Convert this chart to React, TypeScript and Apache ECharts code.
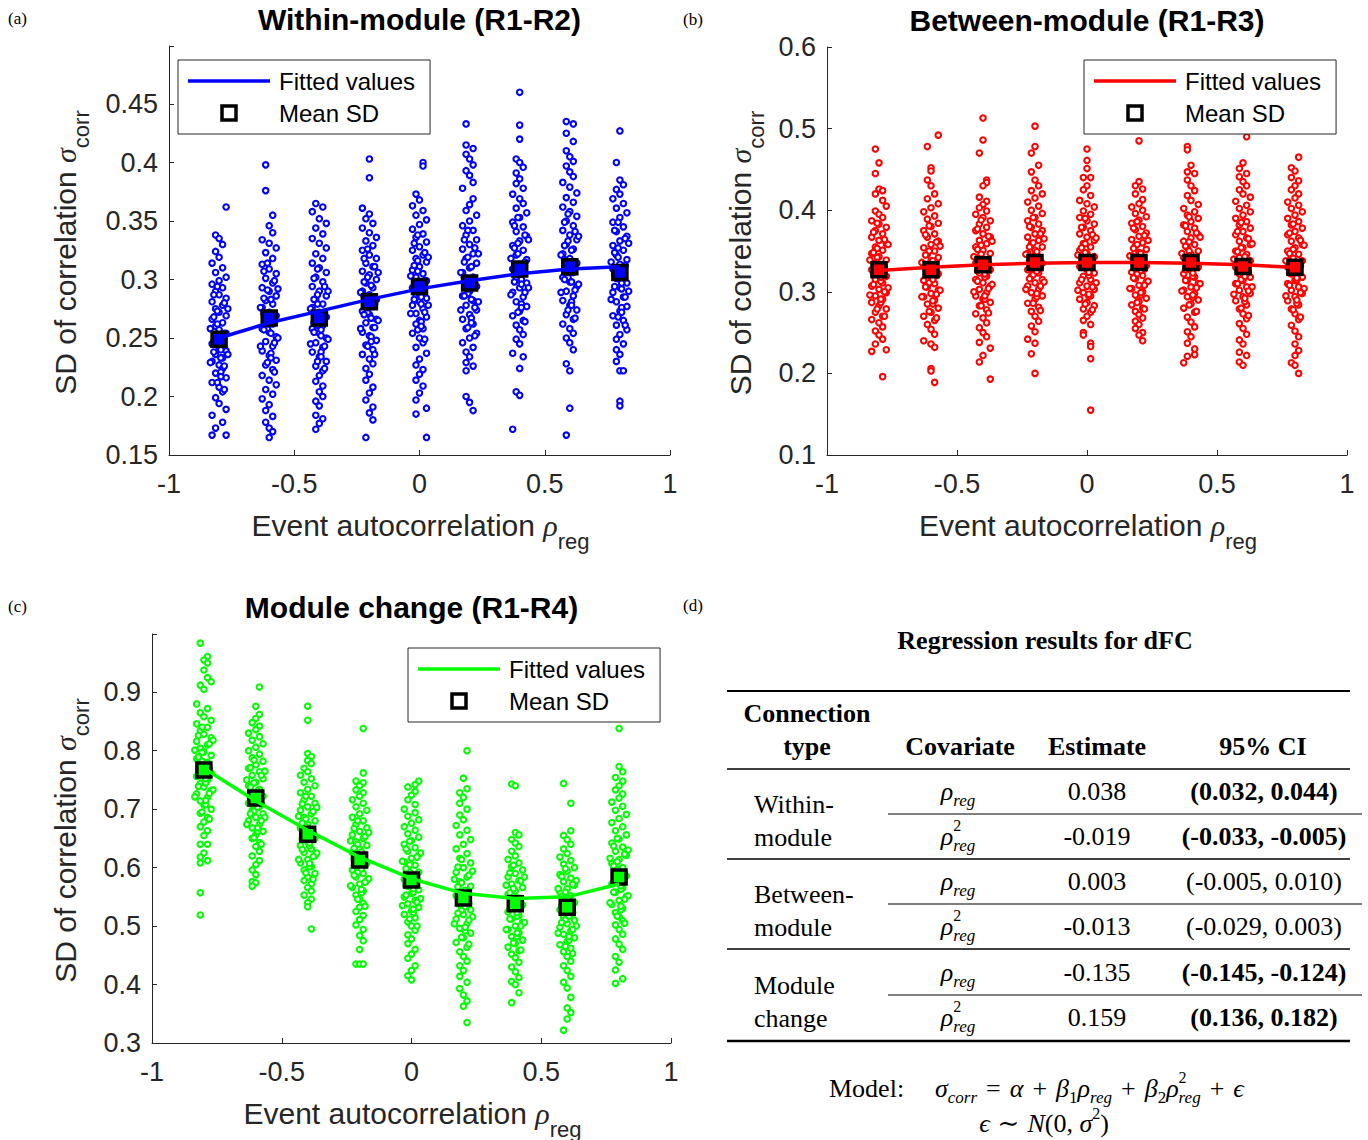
import React, { useEffect, useRef } from 'react';
import * as echarts from 'echarts';

// ---------------- data ----------------
const rhoLevels = [-0.8, -0.6, -0.4, -0.2, 0, 0.2, 0.4, 0.6, 0.8];

const withinMean = [0.249, 0.267, 0.267, 0.281, 0.294, 0.297, 0.309, 0.311, 0.306];
const withinFit = [0.25, 0.263, 0.273, 0.283, 0.292, 0.299, 0.305, 0.309, 0.311];
const betweenMean = [0.327, 0.327, 0.333, 0.336, 0.336, 0.336, 0.336, 0.331, 0.33];
const betweenFit = [0.326, 0.33, 0.333, 0.335, 0.336, 0.336, 0.335, 0.333, 0.33];
const changeMean = [0.767, 0.719, 0.657, 0.613, 0.579, 0.548, 0.538, 0.532, 0.584];
const changeFit = [0.77, 0.714, 0.664, 0.618, 0.581, 0.556, 0.547, 0.55, 0.572];

// each point: [jitter step, sigma_corr]
const withinDots: number[][][] = [
  [[2,.362],[-1,.338],[0,.335],[1,.330],[-1,.324],[0,.319],[-2,.314],[1,.310],[-1,.306],[2,.302],[0,.299],[-2,.296],[1,.293],[-1,.290],[0,.287],[2,.284],[-2,.281],[1,.278],[-1,.275],[0,.272],[2,.269],[-2,.266],[1,.263],[-1,.260],[0,.257],[2,.254],[-1,.251],[1,.248],[-2,.245],[0,.242],[2,.239],[-1,.236],[1,.233],[-2,.230],[0,.227],[1,.224],[-1,.220],[2,.216],[-2,.212],[0,.208],[1,.204],[-1,.199],[0,.194],[2,.189],[-2,.184],[1,.178],[-1,.173],[-2,.167],[2,.167]],
  [[-1,.398],[-1,.376],[1,.355],[0,.346],[1,.340],[-2,.334],[0,.331],[2,.327],[-1,.323],[1,.318],[-2,.313],[0,.309],[2,.305],[-1,.301],[1,.297],[-2,.293],[0,.290],[2,.286],[-1,.282],[1,.279],[-2,.276],[0,.272],[2,.269],[-1,.266],[1,.262],[-2,.258],[0,.255],[2,.251],[-1,.247],[1,.243],[-2,.239],[0,.235],[2,.231],[-1,.227],[1,.223],[-2,.218],[0,.214],[2,.210],[-1,.206],[1,.202],[-2,.198],[0,.193],[-1,.188],[1,.183],[-1,.178],[0,.173],[1,.170],[0,.165]],
  [[-1,.365],[1,.362],[-2,.358],[0,.352],[2,.348],[-1,.344],[1,.339],[-2,.335],[0,.331],[2,.327],[-1,.322],[1,.318],[-2,.314],[0,.310],[2,.306],[-1,.302],[1,.298],[-2,.294],[0,.290],[2,.286],[-1,.283],[1,.279],[-2,.276],[0,.272],[2,.268],[-1,.265],[1,.261],[-2,.258],[0,.254],[2,.250],[-1,.246],[1,.242],[-2,.238],[0,.234],[2,.230],[-1,.226],[1,.222],[0,.218],[-1,.213],[1,.209],[0,.204],[1,.200],[-1,.196],[0,.192],[-1,.184],[1,.181],[0,.177],[-1,.172]],
  [[0,.403],[0,.387],[-2,.361],[0,.356],[-1,.352],[1,.348],[-2,.344],[0,.340],[2,.336],[-1,.333],[1,.329],[-2,.325],[0,.321],[2,.318],[-1,.314],[1,.311],[-2,.307],[0,.304],[2,.300],[-1,.297],[1,.293],[-2,.290],[0,.287],[2,.283],[-1,.280],[1,.277],[-2,.273],[0,.270],[2,.266],[-1,.263],[1,.259],[-2,.255],[0,.252],[2,.248],[-1,.244],[1,.240],[-2,.236],[0,.232],[1,.228],[-1,.224],[0,.219],[-1,.214],[1,.208],[0,.203],[-1,.197],[1,.191],[0,.186],[1,.180],[-1,.165]],
  [[1,.400],[1,.397],[-1,.373],[0,.368],[-2,.363],[1,.359],[-1,.355],[2,.351],[0,.347],[-2,.343],[1,.339],[-1,.336],[2,.332],[0,.328],[-2,.325],[1,.321],[-1,.318],[2,.315],[0,.311],[-2,.308],[1,.305],[-1,.302],[2,.299],[0,.296],[-2,.293],[1,.290],[-1,.287],[2,.284],[0,.281],[-2,.278],[1,.275],[-1,.271],[2,.268],[0,.265],[-1,.262],[1,.258],[-2,.254],[0,.250],[1,.246],[-1,.242],[2,.237],[0,.232],[-1,.227],[1,.223],[0,.219],[-1,.214],[1,.209],[0,.203],[-1,.197],[2,.190],[-1,.185],[2,.165]],
  [[-1,.433],[-1,.415],[1,.412],[-1,.407],[0,.403],[1,.398],[-1,.393],[0,.389],[1,.383],[-2,.378],[1,.369],[0,.364],[-1,.359],[2,.355],[0,.350],[-2,.346],[1,.342],[-1,.338],[2,.334],[0,.330],[-2,.326],[1,.322],[-1,.318],[2,.314],[0,.310],[-2,.306],[1,.302],[-1,.298],[2,.294],[0,.290],[-2,.286],[1,.282],[-1,.278],[2,.274],[0,.270],[-2,.266],[1,.262],[-1,.258],[2,.254],[0,.250],[-2,.246],[1,.242],[-1,.238],[0,.234],[-1,.229],[1,.226],[-1,.222],[-1,.200],[0,.195],[1,.188]],
  [[0,.460],[0,.432],[0,.420],[-1,.403],[0,.400],[1,.396],[-1,.391],[0,.386],[-1,.382],[1,.378],[-2,.373],[0,.369],[1,.365],[-1,.361],[2,.357],[0,.353],[-2,.349],[1,.345],[-1,.341],[2,.337],[0,.333],[-2,.329],[1,.325],[-1,.321],[2,.317],[0,.313],[-2,.309],[1,.305],[-1,.301],[2,.297],[0,.293],[-2,.289],[1,.285],[-1,.281],[2,.277],[0,.273],[-2,.269],[1,.265],[-1,.261],[0,.257],[1,.253],[-1,.249],[0,.245],[-2,.237],[1,.234],[0,.224],[-1,.204],[0,.201],[-2,.172]],
  [[-1,.435],[1,.433],[-1,.425],[1,.418],[-1,.410],[0,.405],[1,.401],[-1,.397],[0,.392],[1,.388],[-2,.383],[0,.379],[2,.374],[-1,.370],[1,.366],[-2,.362],[0,.358],[2,.354],[-1,.350],[1,.346],[-2,.342],[0,.338],[2,.334],[-1,.330],[1,.326],[-2,.322],[0,.318],[2,.314],[-1,.310],[1,.306],[-2,.302],[0,.298],[2,.294],[-1,.290],[1,.286],[-2,.282],[0,.278],[2,.274],[-1,.270],[1,.266],[-2,.262],[0,.258],[1,.254],[-1,.250],[0,.246],[1,.240],[-1,.228],[0,.222],[0,.190],[-1,.167]],
  [[0,.427],[-1,.400],[0,.385],[1,.381],[-1,.377],[0,.373],[-2,.369],[1,.365],[-1,.361],[2,.357],[0,.353],[-2,.349],[1,.345],[-1,.341],[2,.337],[0,.333],[-2,.329],[1,.325],[-1,.321],[2,.317],[0,.313],[-2,.309],[1,.305],[-1,.301],[2,.297],[0,.293],[-2,.289],[1,.285],[-1,.281],[2,.277],[0,.273],[-2,.269],[1,.265],[-1,.261],[2,.257],[0,.253],[-1,.249],[1,.245],[-1,.240],[0,.236],[-1,.230],[0,.222],[1,.222],[0,.196],[0,.192]],
];
// dense core of each column (points overlapping around the mean)
const withinCore: number[][][] = [
  [[-0.5,.262],[1.5,.254],[-1.5,.247],[0.5,.240],[2.5,.236],[-2.5,.229],[0.5,.221],[-0.5,.273],[1.5,.280],[-1.5,.287],[0.5,.233],[-0.5,.212],[1.5,.206],[-1.5,.268],[0.5,.251],[-0.5,.244],[1.5,.226],[-2.5,.258],[2.5,.275],[-0.5,.294],[0.5,.217],[-1.5,.238]],
  [[0.5,.283],[-1.5,.271],[1.5,.266],[-0.5,.258],[2.5,.250],[-2.5,.243],[0.5,.237],[-0.5,.291],[1.5,.299],[-1.5,.307],[0.5,.254],[-0.5,.229],[1.5,.221],[-1.5,.284],[0.5,.270],[-0.5,.262],[1.5,.246],[-2.5,.276],[2.5,.292],[-0.5,.314],[0.5,.233],[-1.5,.257]],
  [[-0.5,.279],[1.5,.272],[-1.5,.263],[0.5,.257],[2.5,.249],[-2.5,.245],[0.5,.238],[-0.5,.287],[1.5,.294],[-1.5,.301],[0.5,.252],[-0.5,.230],[1.5,.224],[-1.5,.283],[0.5,.268],[-0.5,.261],[1.5,.243],[-2.5,.275],[2.5,.290],[-0.5,.309],[0.5,.234],[-1.5,.255]],
  [[0.5,.295],[-1.5,.286],[1.5,.279],[-0.5,.272],[2.5,.265],[-2.5,.258],[0.5,.251],[-0.5,.302],[1.5,.311],[-1.5,.318],[0.5,.267],[-0.5,.243],[1.5,.236],[-1.5,.298],[0.5,.284],[-0.5,.276],[1.5,.259],[-2.5,.289],[2.5,.306],[-0.5,.326],[0.5,.247],[-1.5,.270]],
  [[-0.5,.307],[1.5,.299],[-1.5,.292],[0.5,.285],[2.5,.278],[-2.5,.271],[0.5,.264],[-0.5,.316],[1.5,.323],[-1.5,.331],[0.5,.279],[-0.5,.257],[1.5,.249],[-1.5,.312],[0.5,.296],[-0.5,.289],[1.5,.272],[-2.5,.303],[2.5,.319],[-0.5,.338],[0.5,.260],[-1.5,.283]],
  [[0.5,.311],[-1.5,.302],[1.5,.296],[-0.5,.288],[2.5,.281],[-2.5,.274],[0.5,.267],[-0.5,.319],[1.5,.327],[-1.5,.334],[0.5,.283],[-0.5,.259],[1.5,.252],[-1.5,.315],[0.5,.299],[-0.5,.292],[1.5,.276],[-2.5,.306],[2.5,.322],[-0.5,.342],[0.5,.263],[-1.5,.286]],
  [[-0.5,.322],[1.5,.315],[-1.5,.307],[0.5,.300],[2.5,.293],[-2.5,.287],[0.5,.279],[-0.5,.331],[1.5,.338],[-1.5,.346],[0.5,.296],[-0.5,.272],[1.5,.264],[-1.5,.327],[0.5,.311],[-0.5,.304],[1.5,.289],[-2.5,.318],[2.5,.334],[-0.5,.353],[0.5,.276],[-1.5,.298]],
  [[0.5,.325],[-1.5,.317],[1.5,.310],[-0.5,.302],[2.5,.296],[-2.5,.289],[0.5,.281],[-0.5,.333],[1.5,.341],[-1.5,.349],[0.5,.298],[-0.5,.274],[1.5,.267],[-1.5,.329],[0.5,.314],[-0.5,.306],[1.5,.291],[-2.5,.321],[2.5,.337],[-0.5,.356],[0.5,.278],[-1.5,.300]],
  [[-0.5,.319],[1.5,.312],[-1.5,.304],[0.5,.297],[2.5,.290],[-2.5,.283],[0.5,.276],[-0.5,.327],[1.5,.335],[-1.5,.342],[0.5,.292],[-0.5,.268],[1.5,.261],[-1.5,.323],[0.5,.308],[-0.5,.301],[1.5,.285],[-2.5,.315],[2.5,.331],[-0.5,.349],[0.5,.272],[-1.5,.294]],
];

const betweenDots: number[][][] = [
  [[-1,.475],[0,.458],[-1,.445],[0,.426],[1,.424],[-1,.420],[1,.412],[2,.405],[-1,.399],[0,.395],[1,.391],[-2,.387],[0,.383],[2,.379],[-1,.375],[1,.371],[-2,.367],[0,.363],[2,.359],[-1,.355],[1,.351],[-2,.347],[0,.343],[2,.339],[-1,.335],[1,.331],[-2,.327],[0,.323],[2,.319],[-1,.315],[1,.311],[-2,.307],[0,.303],[2,.299],[-1,.295],[1,.291],[-2,.287],[0,.283],[2,.279],[-1,.275],[1,.270],[-2,.266],[0,.262],[1,.257],[-1,.252],[0,.247],[1,.242],[-1,.236],[2,.229],[-2,.227],[1,.196]],
  [[2,.492],[-1,.478],[0,.452],[0,.448],[-1,.437],[0,.430],[1,.420],[-1,.414],[2,.408],[0,.403],[-2,.398],[1,.393],[-1,.389],[2,.384],[0,.380],[-2,.375],[1,.371],[-1,.367],[2,.362],[0,.358],[-2,.354],[1,.350],[-1,.346],[2,.342],[0,.338],[-2,.334],[1,.330],[-1,.326],[2,.322],[0,.318],[-2,.314],[1,.310],[-1,.306],[2,.302],[0,.298],[-2,.294],[1,.290],[-1,.285],[2,.280],[0,.275],[-2,.270],[1,.265],[-1,.260],[0,.254],[1,.248],[-2,.240],[0,.236],[1,.232],[0,.206],[0,.203],[1,.189]],
  [[0,.513],[0,.486],[-1,.470],[1,.437],[1,.434],[0,.430],[-1,.416],[1,.411],[0,.407],[-1,.403],[1,.399],[-2,.395],[0,.391],[2,.387],[-1,.383],[1,.379],[-2,.375],[0,.371],[2,.367],[-1,.363],[1,.359],[-2,.355],[0,.351],[2,.347],[-1,.343],[1,.339],[-2,.335],[0,.331],[2,.327],[-1,.323],[1,.319],[-2,.315],[0,.311],[2,.307],[-1,.303],[1,.299],[-2,.295],[0,.291],[2,.287],[-1,.283],[1,.278],[-2,.273],[0,.268],[1,.262],[-1,.256],[0,.250],[1,.245],[-1,.238],[2,.231],[0,.222],[-1,.214],[2,.193]],
  [[0,.503],[0,.478],[-1,.470],[1,.455],[-1,.447],[0,.437],[1,.430],[-1,.424],[2,.420],[0,.415],[-2,.410],[1,.405],[-1,.400],[2,.396],[0,.391],[-2,.387],[1,.383],[-1,.379],[2,.375],[0,.371],[-2,.367],[1,.363],[-1,.359],[2,.355],[0,.351],[-2,.347],[1,.343],[-1,.339],[2,.335],[0,.331],[-2,.327],[1,.323],[-1,.319],[2,.315],[0,.311],[-2,.307],[1,.303],[-1,.299],[2,.295],[0,.291],[-2,.286],[1,.281],[-1,.276],[0,.270],[1,.264],[-1,.258],[0,.251],[-2,.242],[0,.237],[-1,.224],[0,.200]],
  [[0,.475],[0,.461],[0,.451],[-1,.440],[1,.440],[0,.430],[-1,.425],[1,.418],[-2,.412],[0,.408],[2,.404],[-1,.399],[1,.395],[-2,.391],[0,.387],[2,.383],[-1,.379],[1,.375],[-2,.371],[0,.367],[2,.363],[-1,.359],[1,.355],[-2,.351],[0,.347],[2,.343],[-1,.339],[1,.335],[-2,.331],[0,.327],[2,.323],[-1,.319],[1,.315],[-2,.311],[0,.307],[2,.303],[-1,.299],[1,.295],[-2,.291],[0,.287],[2,.283],[-1,.279],[1,.275],[0,.270],[-1,.265],[1,.260],[-1,.250],[-1,.247],[1,.237],[1,.233],[1,.218],[1,.155]],
  [[0,.485],[0,.435],[-1,.430],[1,.426],[-1,.420],[1,.413],[0,.408],[-2,.404],[1,.400],[-1,.396],[2,.392],[0,.388],[-2,.384],[1,.380],[-1,.376],[2,.372],[0,.368],[-2,.364],[1,.360],[-1,.356],[2,.352],[0,.348],[-2,.344],[1,.340],[-1,.336],[2,.332],[0,.328],[-2,.324],[1,.320],[-1,.316],[2,.312],[0,.308],[-2,.304],[1,.300],[-1,.296],[2,.292],[0,.288],[-2,.284],[1,.280],[-1,.276],[0,.272],[1,.268],[-1,.264],[0,.260],[-1,.255],[1,.250],[0,.247],[1,.240]],
  [[-1,.478],[-1,.474],[0,.455],[-1,.447],[1,.445],[-1,.437],[0,.430],[1,.424],[-1,.418],[0,.412],[2,.407],[-2,.402],[1,.398],[-1,.394],[2,.390],[0,.386],[-2,.382],[1,.378],[-1,.374],[2,.370],[0,.366],[-2,.362],[1,.358],[-1,.354],[2,.350],[0,.346],[-2,.342],[1,.338],[-1,.334],[2,.330],[0,.326],[-2,.322],[1,.318],[-1,.314],[2,.310],[0,.306],[-2,.302],[1,.298],[-1,.294],[2,.290],[0,.285],[-2,.280],[1,.275],[-1,.269],[0,.263],[1,.257],[-1,.251],[0,.245],[-1,.237],[1,.230],[1,.223],[-1,.221],[-2,.213]],
  [[1,.490],[0,.458],[-1,.451],[1,.445],[-1,.441],[0,.435],[1,.430],[-1,.425],[0,.420],[2,.416],[-2,.411],[1,.406],[-1,.402],[2,.398],[0,.394],[-2,.390],[1,.386],[-1,.382],[2,.378],[0,.374],[-2,.370],[1,.366],[-1,.362],[2,.358],[0,.354],[-2,.350],[1,.346],[-1,.342],[2,.338],[0,.334],[-2,.330],[1,.326],[-1,.322],[2,.318],[0,.314],[-2,.310],[1,.306],[-1,.302],[2,.298],[0,.294],[-2,.289],[1,.284],[-1,.279],[0,.273],[1,.267],[-1,.261],[0,.255],[1,.248],[-1,.241],[0,.236],[-1,.226],[1,.222],[-1,.214],[0,.210]],
  [[1,.465],[-1,.452],[0,.448],[-1,.440],[1,.436],[0,.430],[-1,.425],[1,.420],[0,.415],[-2,.410],[1,.406],[-1,.402],[2,.398],[0,.394],[-2,.390],[1,.386],[-1,.382],[2,.378],[0,.374],[-2,.370],[1,.366],[-1,.362],[2,.358],[0,.354],[-2,.350],[1,.346],[-1,.342],[2,.338],[0,.334],[-2,.330],[1,.326],[-1,.322],[2,.318],[0,.314],[-2,.310],[1,.306],[-1,.302],[2,.298],[0,.294],[-2,.289],[1,.284],[-1,.279],[0,.273],[1,.266],[-1,.259],[0,.252],[1,.245],[0,.236],[1,.228],[0,.222],[-1,.213],[0,.210],[1,.200]],
];
const betweenCore: number[][][] = [
  [[-0.5,.342],[1.5,.331],[-1.5,.322],[0.5,.313],[2.5,.305],[-2.5,.296],[0.5,.287],[-0.5,.353],[1.5,.364],[-1.5,.373],[0.5,.318],[-0.5,.279],[1.5,.270],[-1.5,.348],[0.5,.327],[-0.5,.336],[1.5,.300],[-2.5,.339],[2.5,.358],[-0.5,.384],[0.5,.291],[-1.5,.309]],
  [[0.5,.338],[-1.5,.329],[1.5,.320],[-0.5,.311],[2.5,.302],[-2.5,.294],[0.5,.285],[-0.5,.350],[1.5,.361],[-1.5,.370],[0.5,.315],[-0.5,.276],[1.5,.268],[-1.5,.345],[0.5,.324],[-0.5,.333],[1.5,.297],[-2.5,.336],[2.5,.356],[-0.5,.381],[0.5,.289],[-1.5,.306]],
  [[-0.5,.346],[1.5,.335],[-1.5,.326],[0.5,.318],[2.5,.309],[-2.5,.300],[0.5,.291],[-0.5,.357],[1.5,.368],[-1.5,.377],[0.5,.322],[-0.5,.283],[1.5,.274],[-1.5,.352],[0.5,.331],[-0.5,.340],[1.5,.304],[-2.5,.343],[2.5,.362],[-0.5,.388],[0.5,.295],[-1.5,.313]],
  [[0.5,.349],[-1.5,.338],[1.5,.329],[-0.5,.321],[2.5,.312],[-2.5,.303],[0.5,.294],[-0.5,.360],[1.5,.371],[-1.5,.380],[0.5,.325],[-0.5,.286],[1.5,.277],[-1.5,.355],[0.5,.334],[-0.5,.343],[1.5,.307],[-2.5,.346],[2.5,.365],[-0.5,.391],[0.5,.298],[-1.5,.316]],
  [[-0.5,.348],[1.5,.339],[-1.5,.330],[0.5,.320],[2.5,.311],[-2.5,.302],[0.5,.295],[-0.5,.359],[1.5,.370],[-1.5,.379],[0.5,.324],[-0.5,.285],[1.5,.278],[-1.5,.354],[0.5,.333],[-0.5,.342],[1.5,.306],[-2.5,.345],[2.5,.366],[-0.5,.390],[0.5,.297],[-1.5,.315]],
  [[0.5,.347],[-1.5,.337],[1.5,.328],[-0.5,.322],[2.5,.313],[-2.5,.304],[0.5,.296],[-0.5,.358],[1.5,.369],[-1.5,.378],[0.5,.326],[-0.5,.287],[1.5,.279],[-1.5,.353],[0.5,.332],[-0.5,.341],[1.5,.308],[-2.5,.344],[2.5,.363],[-0.5,.386],[0.5,.299],[-1.5,.317]],
  [[-0.5,.350],[1.5,.336],[-1.5,.327],[0.5,.319],[2.5,.310],[-2.5,.301],[0.5,.293],[-0.5,.361],[1.5,.372],[-1.5,.381],[0.5,.323],[-0.5,.284],[1.5,.276],[-1.5,.356],[0.5,.330],[-0.5,.344],[1.5,.305],[-2.5,.347],[2.5,.367],[-0.5,.392],[0.5,.296],[-1.5,.314]],
  [[0.5,.343],[-1.5,.333],[1.5,.324],[-0.5,.315],[2.5,.306],[-2.5,.297],[0.5,.288],[-0.5,.354],[1.5,.365],[-1.5,.374],[0.5,.319],[-0.5,.280],[1.5,.271],[-1.5,.349],[0.5,.328],[-0.5,.337],[1.5,.301],[-2.5,.340],[2.5,.359],[-0.5,.385],[0.5,.292],[-1.5,.310]],
  [[-0.5,.341],[1.5,.332],[-1.5,.323],[0.5,.314],[2.5,.304],[-2.5,.295],[0.5,.286],[-0.5,.352],[1.5,.363],[-1.5,.372],[0.5,.317],[-0.5,.278],[1.5,.269],[-1.5,.347],[0.5,.326],[-0.5,.335],[1.5,.299],[-2.5,.338],[2.5,.357],[-0.5,.383],[0.5,.290],[-1.5,.308]],
];

const changeDots: number[][][] = [
  [[-1,.984],[1,.961],[0,.955],[1,.950],[0,.938],[1,.925],[2,.918],[-1,.912],[0,.905],[-2,.880],[1,.872],[-1,.865],[0,.858],[2,.852],[-2,.846],[1,.840],[-1,.834],[0,.828],[2,.822],[-2,.816],[1,.810],[-1,.804],[0,.798],[2,.792],[-2,.786],[1,.780],[-1,.774],[0,.768],[2,.762],[-2,.756],[1,.750],[-1,.744],[0,.738],[2,.732],[-2,.726],[1,.720],[-1,.714],[0,.707],[2,.700],[-1,.693],[1,.686],[0,.678],[-1,.670],[1,.663],[0,.655],[-1,.640],[1,.640],[0,.625],[-1,.618],[1,.612],[-1,.608],[-1,.557],[-1,.519]],
  [[1,.909],[0,.876],[1,.862],[0,.855],[-1,.848],[1,.842],[0,.836],[-2,.830],[1,.824],[-1,.818],[2,.812],[0,.806],[-2,.800],[1,.794],[-1,.788],[2,.782],[0,.776],[-2,.770],[1,.764],[-1,.758],[2,.752],[0,.746],[-2,.740],[1,.734],[-1,.728],[2,.722],[0,.716],[-2,.710],[1,.704],[-1,.698],[2,.692],[0,.686],[-2,.680],[1,.674],[-1,.668],[2,.662],[0,.656],[-1,.650],[1,.643],[0,.636],[1,.628],[-1,.620],[1,.612],[0,.605],[-1,.596],[0,.588],[-1,.576],[0,.574],[-1,.568]],
  [[0,.876],[0,.852],[0,.795],[1,.790],[0,.783],[1,.778],[-1,.770],[0,.764],[-2,.758],[1,.752],[-1,.746],[2,.740],[0,.734],[-2,.728],[1,.722],[-1,.716],[2,.710],[0,.704],[-2,.698],[1,.692],[-1,.686],[2,.680],[0,.674],[-2,.668],[1,.662],[-1,.656],[2,.650],[0,.644],[-2,.638],[1,.632],[-1,.626],[2,.620],[0,.614],[-2,.608],[1,.602],[-1,.596],[2,.590],[0,.584],[-1,.578],[1,.572],[0,.566],[1,.560],[-1,.553],[1,.546],[0,.540],[0,.533],[1,.495]],
  [[1,.838],[1,.762],[-1,.748],[1,.745],[0,.740],[-1,.733],[1,.728],[0,.722],[-2,.716],[1,.710],[-1,.704],[2,.698],[0,.692],[-2,.686],[1,.680],[-1,.674],[2,.668],[0,.662],[-2,.656],[1,.650],[-1,.644],[2,.638],[0,.632],[-2,.626],[1,.620],[-1,.614],[2,.608],[0,.602],[-2,.596],[1,.590],[-1,.584],[2,.578],[0,.572],[-2,.566],[1,.560],[-1,.553],[0,.546],[1,.539],[0,.532],[-1,.525],[1,.518],[0,.511],[-1,.502],[1,.494],[0,.484],[1,.475],[0,.460],[-1,.435],[0,.435],[1,.435]],
  [[2,.748],[1,.742],[-1,.738],[1,.730],[0,.724],[-1,.716],[1,.708],[-2,.700],[1,.694],[-1,.688],[2,.682],[0,.676],[-2,.670],[1,.664],[-1,.658],[2,.652],[0,.646],[-2,.640],[1,.634],[-1,.628],[2,.622],[0,.616],[-2,.610],[1,.604],[-1,.598],[2,.592],[0,.586],[-2,.580],[1,.574],[-1,.568],[2,.562],[0,.556],[-2,.550],[1,.544],[-1,.538],[2,.532],[0,.526],[-2,.520],[1,.514],[-1,.507],[0,.500],[1,.493],[-1,.485],[0,.478],[-1,.470],[1,.460],[0,.452],[-1,.445],[1,.432],[0,.424],[-1,.415],[0,.408]],
  [[1,.800],[0,.753],[1,.735],[-1,.728],[0,.720],[-1,.710],[1,.700],[-1,.690],[0,.682],[-2,.672],[1,.664],[-1,.656],[2,.648],[0,.640],[-2,.632],[1,.624],[-1,.616],[2,.608],[0,.600],[-2,.592],[1,.584],[-1,.576],[2,.568],[0,.560],[-2,.552],[1,.544],[-1,.536],[2,.528],[0,.520],[-2,.512],[1,.504],[-1,.496],[2,.488],[0,.480],[-2,.472],[1,.464],[-1,.456],[0,.448],[1,.440],[-1,.432],[0,.424],[-1,.414],[1,.404],[-1,.393],[0,.382],[1,.372],[0,.363],[1,.335]],
  [[-1,.743],[0,.740],[0,.660],[1,.656],[-1,.648],[0,.642],[1,.636],[-1,.628],[0,.620],[-2,.614],[1,.608],[-1,.602],[2,.596],[0,.590],[-2,.584],[1,.578],[-1,.572],[2,.566],[0,.560],[-2,.554],[1,.548],[-1,.542],[2,.536],[0,.530],[-2,.524],[1,.518],[-1,.512],[2,.506],[0,.500],[-2,.494],[1,.488],[-1,.482],[2,.476],[0,.470],[-2,.464],[1,.458],[-1,.452],[0,.446],[1,.438],[-1,.430],[0,.422],[1,.412],[-1,.405],[0,.400],[1,.386],[-1,.369]],
  [[-1,.744],[1,.710],[1,.663],[-1,.655],[0,.648],[1,.640],[-1,.632],[0,.624],[-2,.618],[1,.612],[-1,.606],[2,.600],[0,.594],[-2,.588],[1,.582],[-1,.576],[2,.570],[0,.564],[-2,.558],[1,.552],[-1,.546],[2,.540],[0,.534],[-2,.528],[1,.522],[-1,.516],[2,.510],[0,.504],[-2,.498],[1,.492],[-1,.486],[2,.480],[0,.474],[-2,.468],[1,.462],[-1,.456],[0,.448],[1,.440],[-1,.432],[0,.424],[1,.414],[-1,.404],[0,.394],[1,.378],[0,.360],[1,.352],[0,.341],[-1,.322]],
  [[0,.838],[0,.773],[1,.764],[-1,.754],[1,.748],[0,.740],[-1,.733],[1,.726],[0,.719],[-2,.712],[1,.705],[-1,.698],[2,.691],[0,.684],[-2,.677],[1,.670],[-1,.663],[2,.656],[0,.649],[-2,.642],[1,.635],[-1,.628],[2,.621],[0,.614],[-2,.607],[1,.600],[-1,.593],[2,.586],[0,.579],[-2,.572],[1,.565],[-1,.558],[2,.551],[0,.544],[-2,.537],[1,.530],[-1,.523],[0,.516],[1,.509],[-1,.502],[0,.494],[1,.486],[-1,.478],[0,.469],[1,.460],[-1,.448],[0,.438],[-1,.425],[1,.410],[-1,.402]],
];
const changeCore: number[][][] = [
  [[-0.5,.782],[1.5,.770],[-1.5,.758],[0.5,.745],[2.5,.733],[-2.5,.721],[0.5,.708],[-0.5,.797],[1.5,.812],[-1.5,.826],[0.5,.752],[-0.5,.695],[1.5,.683],[-1.5,.789],[0.5,.764],[-0.5,.776],[1.5,.727],[-2.5,.801],[2.5,.818],[-0.5,.840],[0.5,.715],[-1.5,.739]],
  [[0.5,.731],[-1.5,.720],[1.5,.709],[-0.5,.697],[2.5,.686],[-2.5,.674],[0.5,.662],[-0.5,.745],[1.5,.758],[-1.5,.771],[0.5,.703],[-0.5,.651],[1.5,.640],[-1.5,.738],[0.5,.715],[-0.5,.726],[1.5,.680],[-2.5,.750],[2.5,.765],[-0.5,.784],[0.5,.668],[-1.5,.692]],
  [[-0.5,.670],[1.5,.659],[-1.5,.648],[0.5,.637],[2.5,.625],[-2.5,.614],[0.5,.602],[-0.5,.683],[1.5,.696],[-1.5,.709],[0.5,.642],[-0.5,.591],[1.5,.580],[-1.5,.676],[0.5,.653],[-0.5,.664],[1.5,.619],[-2.5,.688],[2.5,.703],[-0.5,.722],[0.5,.607],[-1.5,.631]],
  [[0.5,.627],[-1.5,.615],[1.5,.604],[-0.5,.592],[2.5,.581],[-2.5,.569],[0.5,.557],[-0.5,.640],[1.5,.653],[-1.5,.667],[0.5,.598],[-0.5,.546],[1.5,.534],[-1.5,.633],[0.5,.610],[-0.5,.621],[1.5,.575],[-2.5,.646],[2.5,.660],[-0.5,.680],[0.5,.563],[-1.5,.587]],
  [[-0.5,.592],[1.5,.581],[-1.5,.570],[0.5,.558],[2.5,.547],[-2.5,.535],[0.5,.523],[-0.5,.605],[1.5,.618],[-1.5,.632],[0.5,.564],[-0.5,.512],[1.5,.500],[-1.5,.598],[0.5,.575],[-0.5,.586],[1.5,.541],[-2.5,.611],[2.5,.625],[-0.5,.645],[0.5,.529],[-1.5,.553]],
  [[0.5,.561],[-1.5,.550],[1.5,.539],[-0.5,.527],[2.5,.516],[-2.5,.504],[0.5,.492],[-0.5,.574],[1.5,.587],[-1.5,.601],[0.5,.533],[-0.5,.481],[1.5,.469],[-1.5,.567],[0.5,.544],[-0.5,.555],[1.5,.510],[-2.5,.580],[2.5,.594],[-0.5,.614],[0.5,.498],[-1.5,.522]],
  [[-0.5,.551],[1.5,.540],[-1.5,.529],[0.5,.517],[2.5,.506],[-2.5,.494],[0.5,.482],[-0.5,.564],[1.5,.577],[-1.5,.591],[0.5,.523],[-0.5,.471],[1.5,.459],[-1.5,.557],[0.5,.534],[-0.5,.545],[1.5,.500],[-2.5,.570],[2.5,.584],[-0.5,.604],[0.5,.488],[-1.5,.512]],
  [[0.5,.545],[-1.5,.534],[1.5,.523],[-0.5,.511],[2.5,.500],[-2.5,.488],[0.5,.476],[-0.5,.558],[1.5,.571],[-1.5,.585],[0.5,.517],[-0.5,.465],[1.5,.453],[-1.5,.551],[0.5,.528],[-0.5,.539],[1.5,.494],[-2.5,.564],[2.5,.578],[-0.5,.598],[0.5,.482],[-1.5,.506]],
  [[-0.5,.597],[1.5,.586],[-1.5,.575],[0.5,.563],[2.5,.552],[-2.5,.540],[0.5,.528],[-0.5,.610],[1.5,.623],[-1.5,.637],[0.5,.569],[-0.5,.517],[1.5,.505],[-1.5,.603],[0.5,.580],[-0.5,.591],[1.5,.546],[-2.5,.616],[2.5,.630],[-0.5,.650],[0.5,.534],[-1.5,.558]],
];

// table (d)
const headerCells = ['Covariate', 'Estimate', '95% CI'];
const connectionTypes = [['Within-', 'module'], ['Between-', 'module'], ['Module', 'change']];
const estimates = ['0.038', '-0.019', '0.003', '-0.013', '-0.135', '0.159'];
const ciLabels = ['(0.032, 0.044)', '(-0.033, -0.005)', '(-0.005, 0.010)', '(-0.029, 0.003)', '(-0.145, -0.124)', '(0.136, 0.182)'];
const ciBold = [true, true, false, false, true, true];

// ---------------- style / layout ----------------
const SANS = '"Liberation Sans", Arial, Helvetica, sans-serif';
const SERIF = '"Liberation Serif", "DejaVu Serif", serif';
const AX = '#262626';
const JITTER = 0.014;

const panels = [
  {
    key: 'a', label: '(a)', title: 'Within-module (R1-R2)', color: '#0000ff',
    dots: withinDots, core: withinCore, mean: withinMean, fit: withinFit,
    grid: { left: 169, top: 46, width: 501, height: 409 },
    y: { min: 0.15, max: 0.4996, interval: 0.05 },
    legend: { left: 178, top: 60 }, yNameX: 65, labelX: 8,
  },
  {
    key: 'b', label: '(b)', title: 'Between-module (R1-R3)', color: '#ff0000',
    dots: betweenDots, core: betweenCore, mean: betweenMean, fit: betweenFit,
    grid: { left: 827, top: 47, width: 520, height: 408 },
    y: { min: 0.1, max: 0.6, interval: 0.1 },
    legend: { left: 1084, top: 60 }, yNameX: 740, labelX: 683,
  },
  {
    key: 'c', label: '(c)', title: 'Module change (R1-R4)', color: '#00ff00',
    dots: changeDots, core: changeCore, mean: changeMean, fit: changeFit,
    grid: { left: 152, top: 634, width: 519, height: 409 },
    y: { min: 0.3, max: 0.9996, interval: 0.1 },
    legend: { left: 408, top: 648 }, yNameX: 65, labelX: 8,
  },
];

type Piece = { t: string; s?: number; it?: boolean; b?: boolean; dy?: number; hold?: boolean; pad?: number };
let measureCtx: CanvasRenderingContext2D | null = null;
function pieceWidth(p: Piece): number {
  if (!measureCtx) measureCtx = document.createElement('canvas').getContext('2d');
  const c = measureCtx!;
  c.font = `${p.it ? 'italic ' : ''}${p.b ? 'bold ' : ''}${p.s ?? 26}px "Liberation Serif", "DejaVu Serif", serif`;
  return c.measureText(p.t).width;
}
function placePieces(pieces: Piece[], x0: number, y: number, anchor: 'left' | 'center', out: any[]) {
  const w = pieces.map(pieceWidth);
  let total = 0;
  pieces.forEach((p, i) => { if (!p.hold) total += w[i] + 2 * (p.pad ?? 0); });
  let x = anchor === 'center' ? x0 - total / 2 : x0;
  pieces.forEach((p, i) => {
    const pad = p.pad ?? 0;
    out.push({
      type: 'text', x: x + pad, y: y + (p.dy ?? 0), silent: true,
      style: {
        text: p.t, fontSize: p.s ?? 26, fontFamily: SERIF,
        fontStyle: p.it ? 'italic' : 'normal', fontWeight: p.b ? 'bold' : 'normal',
        fill: '#000', align: 'left', verticalAlign: 'middle',
      },
    });
    if (!p.hold) x += w[i] + 2 * pad;
  });
}
const SUB = 9;
const SUP = -11;
const rhoReg: Piece[] = [{ t: 'ρ', it: true }, { t: 'reg', it: true, s: 17, dy: SUB }];
const rhoReg2: Piece[] = [{ t: 'ρ', it: true }, { t: '2', s: 16, dy: SUP, hold: true }, { t: 'reg', it: true, s: 17, dy: SUB }];

function buildOption() {
  const g: any[] = [];
  const txt = (x: number, y: number, text: string, o: any = {}) =>
    g.push({ type: 'text', x, y, silent: true, style: { text, fill: '#000', fontSize: 26, fontFamily: SERIF, align: 'center', verticalAlign: 'middle', ...o } });
  const hline = (x1: number, x2: number, y: number, w: number) =>
    g.push({ type: 'line', silent: true, shape: { x1, y1: y, x2, y2: y }, style: { stroke: '#000', lineWidth: w } });

  const nameRich = {
    m: { fontSize: 30, fontFamily: SANS },
    g: { fontSize: 30, fontFamily: SERIF, fontStyle: 'italic' },
    s: { fontSize: 22, fontFamily: SANS, padding: [32, 0, 0, 0] },
  };

  panels.forEach((p) => {
    const gr = p.grid;
    const cx = gr.left + gr.width / 2;
    const cy = gr.top + gr.height / 2;
    txt(p.labelX, gr.top - 28, p.label, { fontSize: 17, align: 'left' });
    txt(cx, gr.top - 27, p.title, { fontFamily: SANS, fontSize: 30, fontWeight: 'bold' });
    g.push({
      type: 'text', x: cx + 1, y: gr.top + gr.height + 70, silent: true,
      style: { text: '{m|Event autocorrelation }{g|ρ}{s|reg}', fill: AX, align: 'center', verticalAlign: 'middle', rich: nameRich },
    });
    g.push({
      type: 'text', x: p.yNameX, y: cy + 2, rotation: Math.PI / 2, silent: true,
      style: { text: '{m|SD of correlation }{g|σ}{s|corr}', fill: AX, align: 'center', verticalAlign: 'middle', rich: nameRich },
    });
  });
  txt(683, 605, '(d)', { fontSize: 17, align: 'left' });

  // ---- table (d) ----
  txt(1045, 640, 'Regression results for dFC', { fontWeight: 'bold' });
  hline(727, 1350, 691, 2);
  txt(807, 713, 'Connection', { fontWeight: 'bold' });
  txt(807, 746, 'type', { fontWeight: 'bold' });
  const colX = [960, 1097, 1263];
  headerCells.forEach((h, i) => txt(colX[i], 746, h, { fontWeight: 'bold' }));
  hline(727, 1350, 769, 1.5);
  const rowY = [791, 836, 881, 926, 972, 1017];
  estimates.forEach((e, i) => {
    placePieces(i % 2 === 0 ? rhoReg : rhoReg2, 958, rowY[i], 'center', g);
    txt(1097, rowY[i], e);
    txt(1264, rowY[i], ciLabels[i], { fontWeight: ciBold[i] ? 'bold' : 'normal' });
  });
  connectionTypes.forEach((ct, k) => {
    txt(754, rowY[2 * k] + 13, ct[0], { align: 'left' });
    txt(754, rowY[2 * k + 1] + 1, ct[1], { align: 'left' });
    hline(888, 1362, (rowY[2 * k] + rowY[2 * k + 1]) / 2 + 0.5, 1.2);
    if (k < 2) hline(727, 1350, rowY[2 * k + 1] + 23, 1.5);
  });
  hline(727, 1350, 1041, 2.5);
  txt(829, 1088, 'Model:', { align: 'left' });
  placePieces([
    { t: 'σ', it: true }, { t: 'corr', it: true, s: 17, dy: SUB }, { t: '=', pad: 9 }, { t: 'α', it: true }, { t: '+', pad: 9 },
    { t: 'β', it: true }, { t: '1', s: 17, dy: SUB }, { t: 'ρ', it: true }, { t: 'reg', it: true, s: 17, dy: SUB }, { t: '+', pad: 9 },
    { t: 'β', it: true }, { t: '2', s: 17, dy: SUB }, { t: 'ρ', it: true }, { t: '2', s: 16, dy: SUP, hold: true },
    { t: 'reg', it: true, s: 17, dy: SUB }, { t: '+', pad: 9 }, { t: 'ϵ', it: true },
  ], 935, 1088, 'left', g);
  placePieces([
    { t: 'ϵ', it: true }, { t: '∼', pad: 8 }, { t: 'N', it: true }, { t: '(0, ' }, { t: 'σ', it: true },
    { t: '2', s: 16, dy: -10 }, { t: ')' },
  ], 1044, 1123, 'center', g);

  const legendName = (name: string) => name.replace(/ \([abc]\)$/, '');

  return {
    animation: false,
    backgroundColor: '#fff',
    grid: panels.map((p) => ({ ...p.grid, containLabel: false, outerBoundsMode: 'none' })),
    xAxis: panels.map((p, i) => ({
      gridIndex: i, type: 'value', min: -1, max: 1, interval: 0.5,
      axisLine: { show: true, onZero: false, lineStyle: { color: AX, width: 1 } },
      axisTick: { show: true, inside: true, length: 5, lineStyle: { color: AX, width: 1 } },
      splitLine: { show: false },
      axisLabel: { fontSize: 27, fontFamily: SANS, color: AX, margin: 15 },
    })),
    yAxis: panels.map((p, i) => ({
      gridIndex: i, type: 'value', min: p.y.min, max: p.y.max, interval: p.y.interval,
      axisLine: { show: true, onZero: false, lineStyle: { color: AX, width: 1 } },
      axisTick: { show: true, inside: true, length: 5, lineStyle: { color: AX, width: 1 } },
      splitLine: { show: false },
      axisLabel: {
        fontSize: 27, fontFamily: SANS, color: AX, margin: 11,
        formatter: (v: number) => {
          const k = v / p.y.interval;
          return Math.abs(k - Math.round(k)) < 1e-6 ? String(parseFloat(v.toFixed(2))) : '';
        },
      },
    })),
    legend: panels.map((p) => ({
      left: p.legend.left, top: p.legend.top, orient: 'vertical', align: 'left',
      backgroundColor: '#fff', borderColor: AX, borderWidth: 1, padding: [9, 15, 9, 10],
      itemGap: 8, itemWidth: 82, itemHeight: 14, symbolKeepAspect: true, selectedMode: false,
      textStyle: { fontSize: 24, fontFamily: SANS, color: '#000', padding: [0, 0, 0, 4] },
      formatter: legendName,
      data: [
        { name: `Fitted values (${p.key})`, icon: 'path://M0,0H82V3.5H0Z', itemStyle: { color: p.color, borderWidth: 0 } },
        { name: `Mean SD (${p.key})`, icon: 'path://M0,0H10V10H0Z', itemStyle: { color: 'rgba(0,0,0,0)', borderColor: '#000', borderWidth: 3.5 } },
      ],
    })),
    series: panels.flatMap((p, i) => [
      {
        name: `Dots (${p.key})`, type: 'scatter', xAxisIndex: i, yAxisIndex: i,
        symbol: 'circle', symbolSize: 5.5,
        itemStyle: { color: '#fff', borderColor: p.color, borderWidth: 2.1, opacity: 1 },
        data: p.dots.flatMap((col, ci) =>
          col.concat(p.core[ci]).map(([dx, y]) => [rhoLevels[ci] + dx * JITTER, y])),
        silent: true,
      },
      {
        name: `Fitted values (${p.key})`, type: 'line', xAxisIndex: i, yAxisIndex: i,
        symbol: 'none', showSymbol: false, smooth: false,
        lineStyle: { color: p.color, width: 3.5 }, itemStyle: { color: p.color },
        data: rhoLevels.map((x, k) => [x, p.fit[k]]),
        silent: true,
      },
      {
        name: `Mean SD (${p.key})`, type: 'scatter', xAxisIndex: i, yAxisIndex: i,
        symbol: 'rect', symbolSize: 14,
        itemStyle: { color: p.color, borderColor: '#000', borderWidth: 3.5, opacity: 1 },
        data: rhoLevels.map((x, k) => [x, p.mean[k]]),
        silent: true,
      },
    ]),
    graphic: g,
  };
}

export default function App() {
  const ref = useRef<HTMLDivElement>(null);
  useEffect(() => {
    const chart = echarts.init(ref.current!, null, { renderer: 'svg' });
    chart.setOption(buildOption() as any);
    return () => chart.dispose();
  }, []);
  return (
    <div
      ref={ref}
      style={{ position: 'absolute', left: 0, top: 0, width: 1368, height: 1140, background: '#fff' }}
    />
  );
}
